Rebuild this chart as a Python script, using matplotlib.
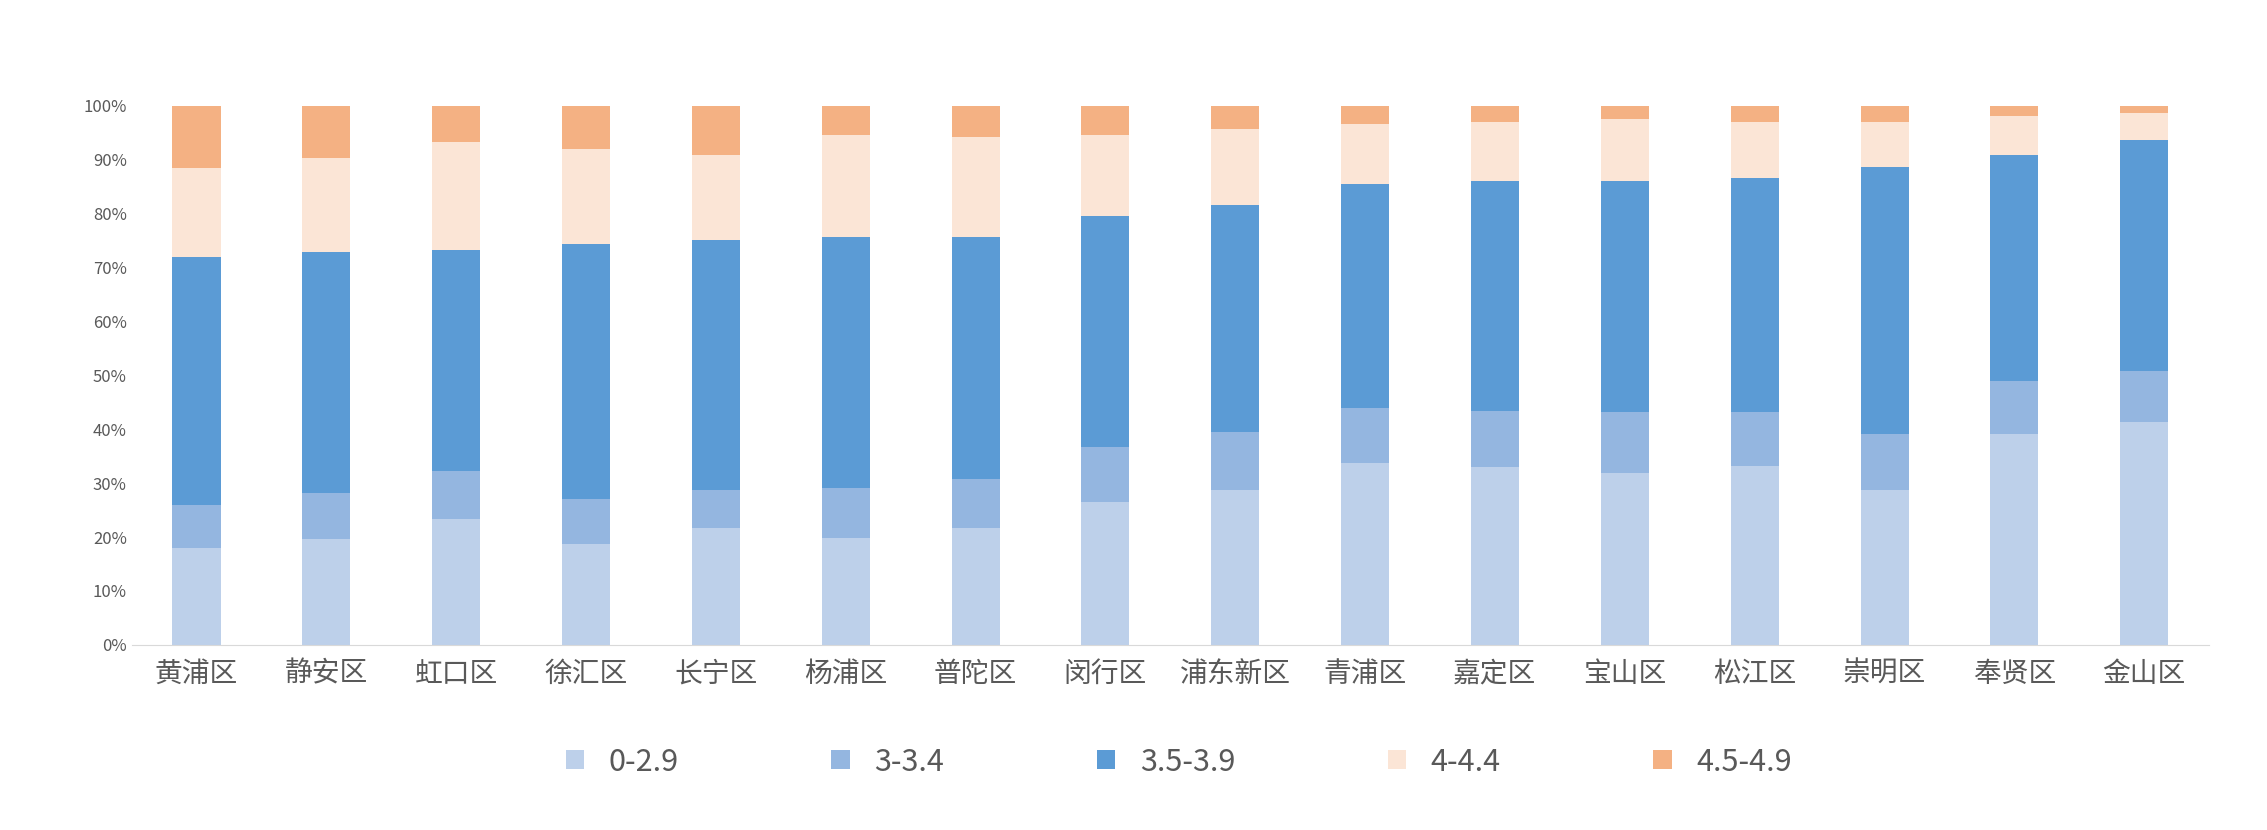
import matplotlib
matplotlib.use("Agg")
import matplotlib.pyplot as plt
import numpy as np

plt.rcParams["font.family"] = ["Noto Sans CJK SC", "DejaVu Sans"]

districts = ["黄浦区","静安区","虹口区","徐汇区","长宁区","杨浦区","普陀区","闵行区",
             "浦东新区","青浦区","嘉定区","宝山区","松江区","崇明区","奉贤区","金山区"]
series_names = ["0-2.9", "3-3.4", "3.5-3.9", "4-4.4", "4.5-4.9"]
s0 = [18.0,19.6,23.3,18.8,21.7,19.8,21.7,26.5,28.7,33.8,33.0,31.9,33.2,28.7,39.1,41.3]
s1 = [8.0,8.6,8.9,8.3,7.0,9.2,9.1,10.2,10.7,10.2,10.4,11.3,10.0,10.4,9.9,9.4]
s2 = [46.0,44.7,41.0,47.2,46.3,46.6,44.8,42.9,42.1,41.5,42.6,42.8,43.4,49.6,41.9,42.9]
s3 = [16.5,17.4,20.1,17.7,15.9,19.0,18.5,15.0,14.2,11.0,11.0,11.6,10.4,8.3,7.1,5.1]
s4 = [11.5,9.7,6.7,8.0,9.1,5.4,5.9,5.4,4.3,3.5,3.0,2.4,3.0,3.0,2.0,1.3]
colors = ["#BDD0EA", "#94B6E0", "#5B9BD5", "#FBE5D6", "#F4B183"]

fig = plt.figure(figsize=(22.67, 8.30), dpi=100)
ax = fig.add_axes([91/1568, 1-446/574, (1528-91)/1568, (446-73)/574])
x = np.arange(len(districts))
bottom = np.zeros(len(districts))
for name, vals, c in zip(series_names, [s0, s1, s2, s3, s4], colors):
    ax.bar(x, vals, 0.37, bottom=bottom, color=c, label=name)
    bottom += np.array(vals)

ax.set_xlim(-0.5, len(districts) - 0.5)
ax.set_ylim(0, 100)
ax.set_yticks(range(0, 101, 10))
ax.set_yticklabels([f"{v}%" for v in range(0, 101, 10)], fontsize=12, color="#595959")
ax.set_xticks(x)
ax.set_xticklabels(districts, fontsize=20, color="#595959")
for s in ["top", "right", "left"]:
    ax.spines[s].set_visible(False)
ax.spines["bottom"].set_color("#D9D9D9")
ax.tick_params(axis="both", length=0)
ax.tick_params(axis="x", pad=10)

fig.legend(loc="center", bbox_to_anchor=(0.52, 1-527/574), ncol=5, frameon=False,
           fontsize=22, handlelength=0.6, handleheight=0.6, columnspacing=5,
           labelcolor="#595959")
fig.savefig("out.png", dpi=100)
